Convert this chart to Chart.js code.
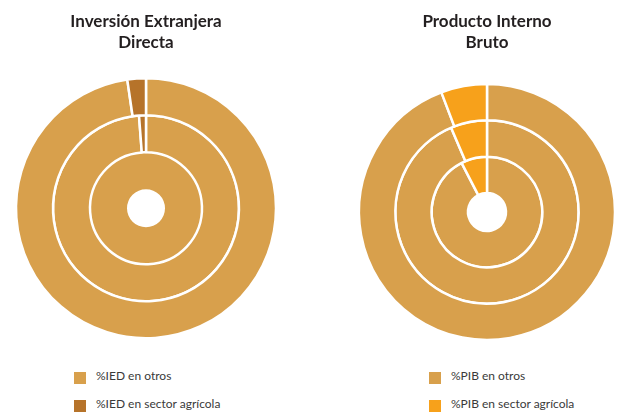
<!DOCTYPE html>
<html>
<head>
<meta charset="utf-8">
<script src="https://cdn.jsdelivr.net/npm/chart.js@4/dist/chart.umd.min.js"></script>
<style>
  html, body { margin: 0; padding: 0; background: #fff; width: 621px; height: 414px; overflow: hidden; }
  canvas { position: absolute; top: 0; }
  .legend { position: absolute; font-family: "Lato", sans-serif; font-size: 12px; color: #3a3a3a; }
  .legend .row { position: absolute; left: 0; white-space: nowrap; height: 12px; }
  .legend .box { position: absolute; left: 0; top: 0; width: 12px; height: 12px; }
  .legend .txt { position: absolute; left: 22px; top: -2px; line-height: 12px; }
</style>
</head>
<body>
<canvas id="ied" width="270" height="345" style="left:11px"></canvas>
<canvas id="pib" width="270" height="345" style="left:352px"></canvas>
<div class="legend" id="iedLegend" style="left:74px; top:372px"></div>
<div class="legend" id="pibLegend" style="left:429px; top:372px"></div>
<script>
// Shares per ring, outer ring first (percent)
const iedOtros    = [97.7, 98.8, 100];
const iedAgricola = [2.3, 1.2, 0];
const pibOtros    = [94.2, 93.6, 92.4];
const pibAgricola = [5.8, 6.4, 7.6];

const iedLabels = ['%IED en otros', '%IED en sector agrícola'];
const pibLabels = ['%PIB en otros', '%PIB en sector agrícola'];

const iedTitle = ['Inversión Extranjera', 'Directa'];
const pibTitle = ['Producto Interno', 'Bruto'];

const colorOtros = '#D8A04C';
const colorIedAgricola = '#B6732A';
const colorPibAgricola = '#F7A11B';

function ringDatasets(otros, agricola, agrColor) {
  return otros.map((v, i) => ({
    data: [v, agricola[i]],
    backgroundColor: [colorOtros, agrColor],
    borderColor: '#ffffff',
    // a ring holding a single share is a plain band: no seam stroke at the top;
    // the white line around it comes from the neighbouring ring's border
    borderWidth: agricola[i] === 0 || v === 0 ? 0 : 2.5,
    hoverOffset: 0
  }));
}

function makeChart(id, labels, title, otros, agricola, agrColor, titleGap, bottomPad) {
  return new Chart(document.getElementById(id), {
    type: 'doughnut',
    data: { labels: labels, datasets: ringDatasets(otros, agricola, agrColor) },
    options: {
      responsive: false,
      devicePixelRatio: 1,
      animation: false,
      cutout: 19,
      layout: { padding: { bottom: bottomPad } },
      plugins: {
        legend: { display: false },
        tooltip: { enabled: false },
        title: {
          display: true,
          text: title,
          color: '#231f20',
          font: { family: 'Lato', size: 17, weight: 'bold', lineHeight: 21 / 17 },
          padding: { top: 11, bottom: titleGap }
        }
      }
    }
  });
}

makeChart('ied', iedLabels, iedTitle, iedOtros, iedAgricola, colorIedAgricola, 24, 5.5);
makeChart('pib', pibLabels, pibTitle, pibOtros, pibAgricola, colorPibAgricola, 29.75, 3.75);

function buildLegend(id, labels, colors) {
  const el = document.getElementById(id);
  labels.forEach((label, i) => {
    const row = document.createElement('div');
    row.className = 'row';
    row.style.top = (i * 28) + 'px';
    const box = document.createElement('div');
    box.className = 'box';
    box.style.background = colors[i];
    const txt = document.createElement('div');
    txt.className = 'txt';
    txt.textContent = label;
    row.appendChild(box);
    row.appendChild(txt);
    el.appendChild(row);
  });
}
buildLegend('iedLegend', iedLabels, [colorOtros, colorIedAgricola]);
buildLegend('pibLegend', pibLabels, [colorOtros, colorPibAgricola]);
</script>
</body>
</html>
